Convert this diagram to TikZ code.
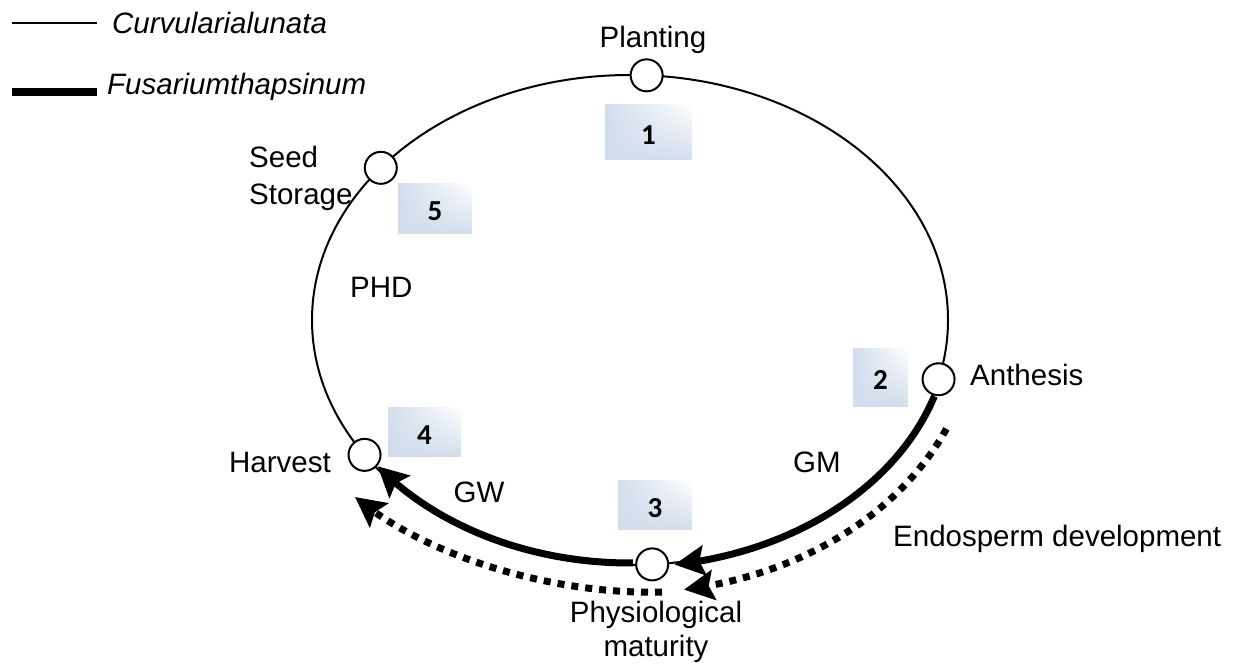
\documentclass[tikz,border=0pt]{standalone}
\usepackage{fontspec}
\setmainfont{Liberation Sans}
\newfontfamily\numfont{Carlito}
\usetikzlibrary{arrows.meta,bending,calc,shadings}
\definecolor{boxblue}{RGB}{210,221,236}
\begin{document}
\begin{tikzpicture}[x=1pt,y=1pt,
  every node/.style={inner sep=0pt},
  lbl/.style={font=\fontsize{29.5}{35}\selectfont},
  stage/.style={circle, draw, fill=white, line width=2pt, minimum size=32pt},
  numbox/.style={shade, upper left=boxblue, lower left=boxblue, lower right=boxblue, upper right=white,
    font=\numfont\bfseries\fontsize{29}{34}\selectfont, text height=24pt, text depth=0pt},
  thinline/.style={line width=2pt},
  thickline/.style={line width=7pt},
  dotline/.style={line width=7pt, dash pattern=on 7pt off 7pt},
  tip/.style={-{Stealth[length=30pt,width=30pt,inset=5pt]}}
]
\useasboundingbox (0,0) rectangle (1235,669);
% legend
\coordinate (l1a) at (12,646); \coordinate (l1b) at (97,646);
\draw[line width=1.7pt] (l1a) -- (l1b);
\node[lbl, font=\fontsize{29.5}{35}\selectfont\itshape, anchor=base west] (leg1) at (112,635) {Curvularialunata};
\coordinate (l2a) at (12,577); \coordinate (l2b) at (97,577);
\draw[line width=8.5pt] (l2a) -- (l2b);
\node[lbl, font=\fontsize{29.5}{35}\selectfont\itshape, anchor=base west] (leg2) at (107,574) {Fusariumthapsinum};
% cycle
\coordinate (c) at (630,349);
\draw[thinline] (c) ellipse[x radius=318pt, y radius=245pt];
% numbered boxes
\node[numbox, minimum width=87pt, minimum height=55pt] (b1) at (648.5,536.5) {1};
\node[numbox, minimum width=55pt, minimum height=58pt] (b2) at (880.5,291) {2};
\node[numbox, minimum width=74pt, minimum height=49pt] (b3) at (655,163.5) {3};
\node[numbox, minimum width=73pt, minimum height=49pt] (b4) at (424.5,236.5) {4};
\node[numbox, minimum width=74pt, minimum height=50pt] (b5) at (435,460) {5};
% thick arcs
\draw[thickline, tip] (c) ++(-18:320pt and 247pt) arc[start angle=-18, end angle=-82, x radius=320pt, y radius=247pt];
\draw[thickline, tip] (c) ++(-89.5:316pt and 243pt) arc[start angle=-89.5, end angle=-143, x radius=316pt, y radius=243pt];
% dotted arcs
\draw[dotline, tip] (c) ++(-23.5:345pt and 273pt) arc[start angle=-23.5, end angle=-81, x radius=345pt, y radius=273pt];
\coordinate (gws) at (662,77);
\coordinate (gwe) at (355,172);
\draw[dotline, tip] (gws) .. controls (560,74) and (430,109) .. (gwe);
% stage circles
\path (c) ++(87:318pt and 245pt) node[stage] (plant) {};
\path (c) ++(141.6:318pt and 245pt) node[stage] (seed) {};
\path (c) ++(-14:318pt and 245pt) node[stage] (anth) {};
\path (c) ++(-146.6:318pt and 245pt) node[stage] (harv) {};
\path (c) ++(-86:318pt and 245pt) node[stage] (phys) {};
% labels
\node[lbl, anchor=base] (tplant) at (653,621) {Planting};
\node[lbl, anchor=base west] (tseed1) at (249,501) {Seed};
\node[lbl, anchor=base west] (tseed2) at (249,464) {Storage};
\node[lbl, anchor=base west] (tphd) at (350,371) {PHD};
\node[lbl, anchor=base west] (tanth) at (970,283) {Anthesis};
\node[lbl, anchor=base east] (tharv) at (331,196) {Harvest};
\node[lbl, anchor=base] (tgw) at (479,166) {GW};
\node[lbl, anchor=base] (tgm) at (817,196) {GM};
\node[lbl, anchor=base west] (tendo) at (893,122) {Endosperm development};
\node[lbl, anchor=base] (tphys1) at (656,46) {Physiological};
\node[lbl, anchor=base] (tphys2) at (656,12) {maturity};
\end{tikzpicture}
\end{document}
